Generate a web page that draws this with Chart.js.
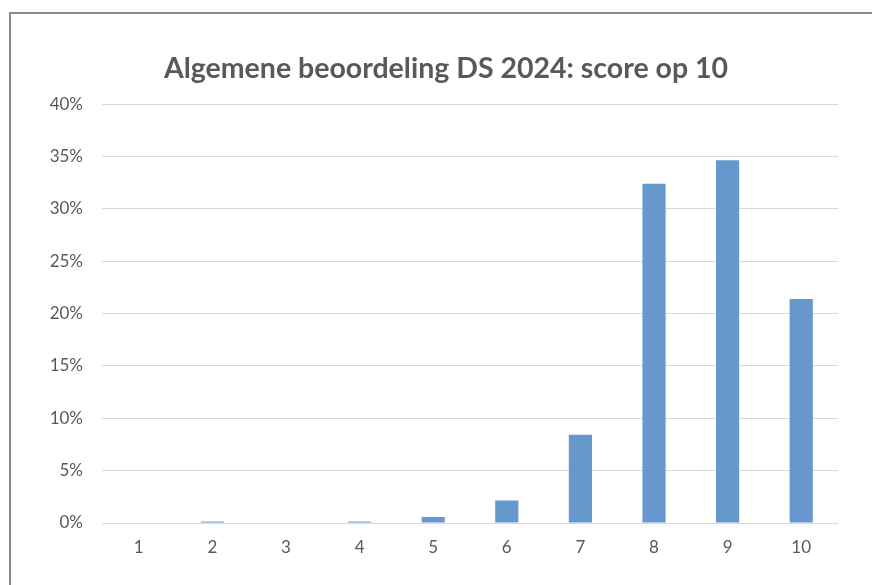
<!DOCTYPE html>
<html>
<head>
<meta charset="utf-8">
<script src="https://cdn.jsdelivr.net/npm/chart.js@4.4.1/dist/chart.umd.min.js"></script>
<style>
    html, body { margin: 0; padding: 0; background: #ffffff; overflow: hidden; }
    #wrap { position: absolute; left: 0; top: 0; width: 872px; height: 585px; }
</style>
</head>
<body>
<div id="wrap"><canvas id="score-chart" width="872" height="585"></canvas></div>
<script>
// scores 1..10, share of respondents in %
var score_labels = ['1', '2', '3', '4', '5', '6', '7', '8', '9', '10'];
var score_values = [0, 0.15, 0, 0.15, 0.57, 2.16, 8.43, 32.4, 34.65, 21.4];
var y_ticks = [0, 5, 10, 15, 20, 25, 30, 35, 40];

var text_color = '#595959';
var font_family = 'Lato, "Open Sans", sans-serif';

// grey frame line along the top and left edge of the picture
var frame_plugin = {
    id: 'frame',
    beforeDraw: function (chart) {
        var c = chart.ctx;
        c.save();
        c.strokeStyle = '#8a8a8a';
        c.lineWidth = 2;
        c.beginPath();
        c.moveTo(10, chart.height);
        c.lineTo(10, 13);
        c.lineTo(chart.width, 13);
        c.stroke();
        c.restore();
    }
};

var ctx = document.getElementById('score-chart').getContext('2d');
var score_chart = new Chart(ctx, {
    type: 'bar',
    data: {
        labels: score_labels,
        datasets: [{
            data: score_values,
            backgroundColor: 'rgb(103, 152, 205)',
            borderWidth: 0,
            barPercentage: 0.315,
            categoryPercentage: 1,
        }]
    },
    plugins: [frame_plugin],
    options: {
        responsive: false,
        animation: false,
        layout: {
            padding: { left: 20, right: 0, top: 0, bottom: 28 }
        },
        plugins: {
            legend: { display: false },
            tooltip: { enabled: false },
            title: {
                display: true,
                text: 'Algemene beoordeling DS 2024: score op 10',
                color: text_color,
                font: { family: font_family, size: 28.5, weight: 'bold' },
                padding: { top: 52, bottom: 18 },
            }
        },
        scales: {
            x: {
                grid: { display: false, drawTicks: false },
                border: { display: false },
                ticks: {
                    color: text_color,
                    font: { family: font_family, size: 17 },
                    padding: 14,
                },
                afterFit: function (scale) { scale.height = 34; }
            },
            y: {
                min: 0,
                max: 40,
                afterBuildTicks: function (scale) {
                    scale.ticks = y_ticks.map(function (v) { return { value: v }; });
                },
                grid: { color: '#d9d9d9', lineWidth: 1, drawTicks: false },
                border: { display: false },
                ticks: {
                    color: text_color,
                    font: { family: font_family, size: 17 },
                    padding: 19,
                    callback: function (value) { return value + '%'; }
                },
                afterFit: function (scale) { scale.width = 82; }
            },
            // empty right margin so the title sits where it does in the original
            spacer: {
                type: 'linear',
                position: 'right',
                grid: { display: false, drawTicks: false },
                border: { display: false },
                ticks: { display: false },
                afterFit: function (scale) { scale.width = 34; }
            }
        }
    }
});
</script>
</body>
</html>
